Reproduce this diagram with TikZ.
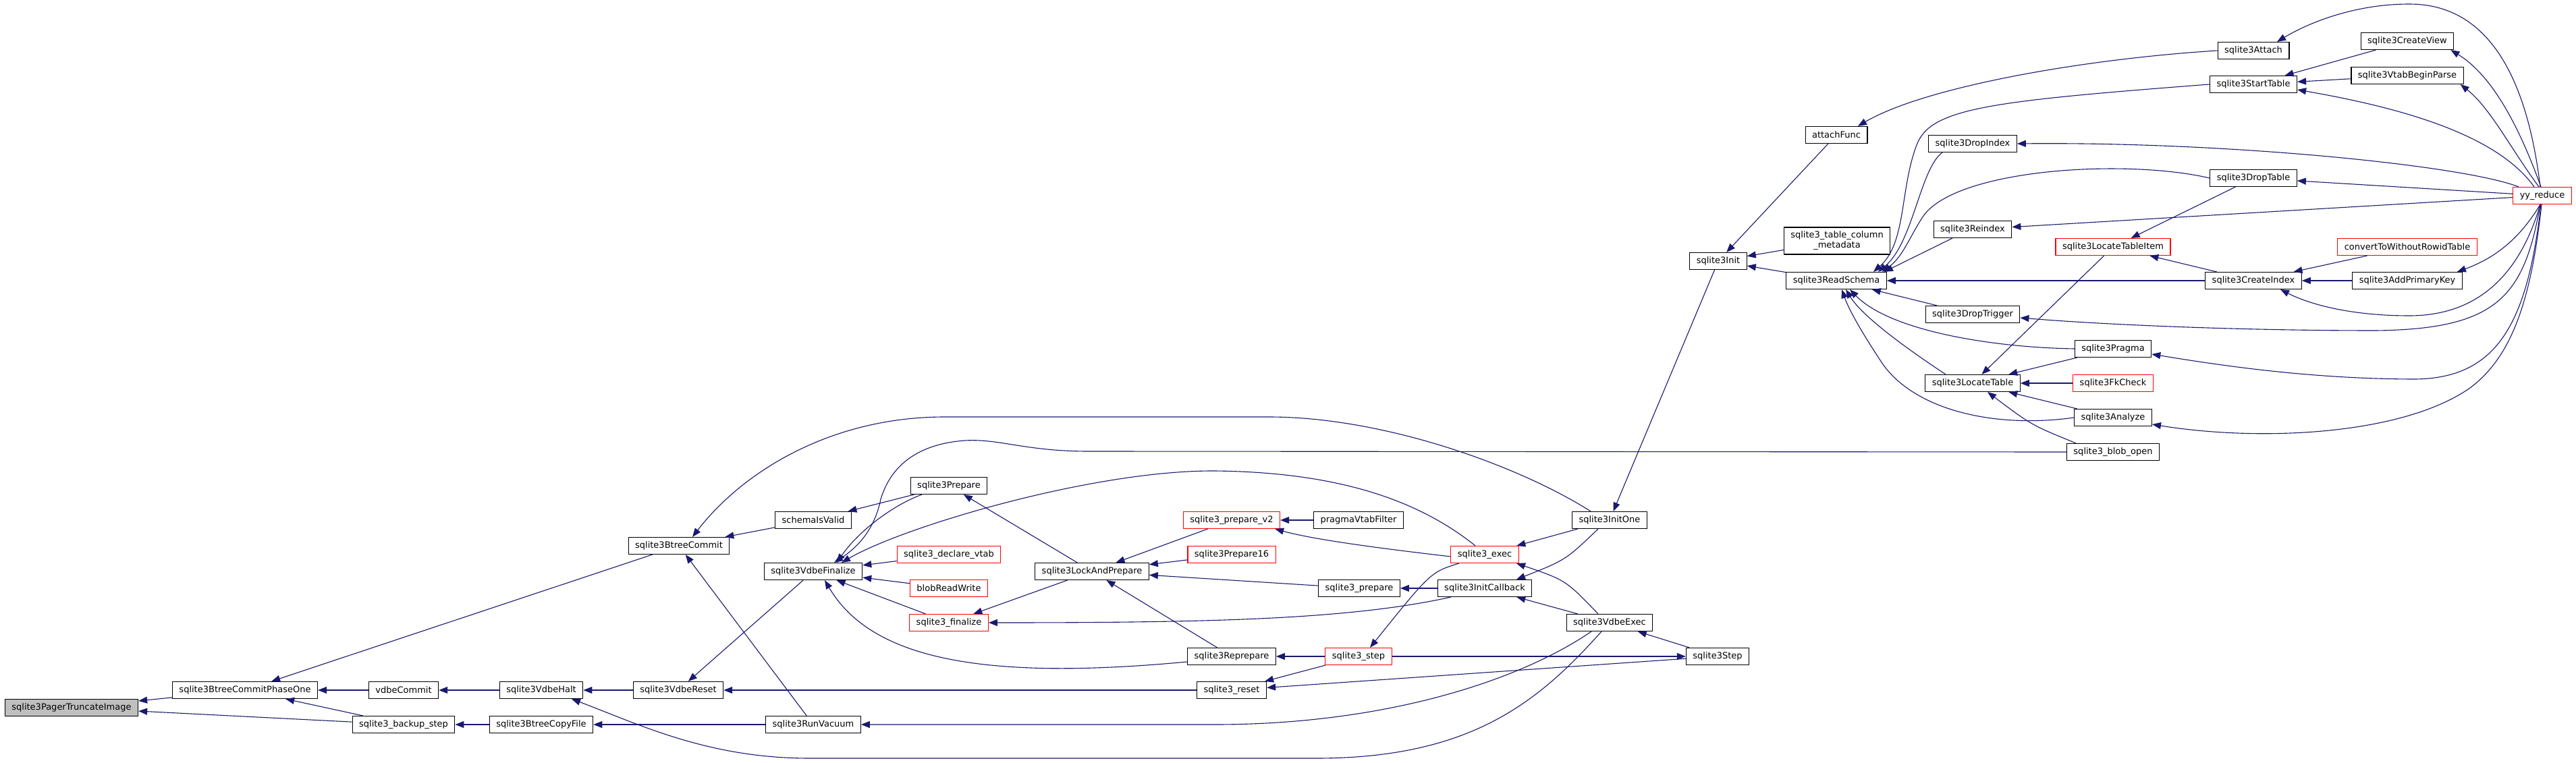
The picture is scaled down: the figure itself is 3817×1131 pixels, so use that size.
\documentclass[tikz,border=0pt]{standalone}
\usepackage{fontspec}
\setmainfont{DejaVu Sans}
\usepackage{tikz}
\usetikzlibrary{arrows.meta}
\definecolor{edgeblue}{HTML}{191970}
\definecolor{rootgray}{HTML}{BFBFBF}
\definecolor{linkred}{HTML}{FF0000}

\begin{document}
\begin{tikzpicture}[x=1pt,y=-1pt,
  fn/.style={draw=black,line width=1.1pt,fill=white,minimum height=25pt,inner xsep=10pt,inner ysep=0pt,font=\fontsize{13}{15}\selectfont},
  fnred/.style={fn,draw=linkred},
  fnroot/.style={fn,fill=rootgray},
  arr/.style={draw=edgeblue,line width=1.1pt,-{Triangle[length=13pt,width=10pt]}}]
  \useasboundingbox (0,0) rectangle (3817,1131);

  \node[fnroot] (ptrunc) at (106,1049) {sqlite3PagerTruncateImage};
  \node[fn] (commitone) at (363,1023) {sqlite3BtreeCommitPhaseOne};
  \node[fn] (vdbecommit) at (598,1023) {vdbeCommit};
  \node[fn] (backupstep) at (598,1074) {sqlite3\_backup\_step};
  \node[fn] (vdbehalt) at (802,1023) {sqlite3VdbeHalt};
  \node[fn] (copyfile) at (802,1074) {sqlite3BtreeCopyFile};
  \node[fn] (vdbereset) at (1005,1023) {sqlite3VdbeReset};
  \node[fn] (btcommit) at (1006,809) {sqlite3BtreeCommit};
  \node[fn] (schemavalid) at (1205,771) {schemaIsValid};
  \node[fn] (vdbefinal) at (1205,847) {sqlite3VdbeFinalize};
  \node[fn] (runvacuum) at (1205,1074) {sqlite3RunVacuum};
  \node[fn] (prepare) at (1406,720) {sqlite3Prepare};
  \node[fnred] (declarevtab) at (1406,822) {sqlite3\_declare\_vtab};
  \node[fnred] (blobrw) at (1406,872) {blobReadWrite};
  \node[fnred] (finalize) at (1406,923) {sqlite3\_finalize};
  \node[fn] (lockprep) at (1618,847) {sqlite3LockAndPrepare};
  \node[fnred] (preparev2) at (1825,771) {sqlite3\_prepare\_v2};
  \node[fnred] (prep16) at (1825,822) {sqlite3Prepare16};
  \node[fn] (reprepare) at (1825,973) {sqlite3Reprepare};
  \node[fn] (reset) at (1825,1023) {sqlite3\_reset};
  \node[fn] (vtabfilter) at (2013,771) {pragmaVtabFilter};
  \node[fn] (prepareapi) at (2014,872) {sqlite3\_prepare};
  \node[fnred] (step) at (2013,973) {sqlite3\_step};
  \node[fnred] (exec) at (2200,822) {sqlite3\_exec};
  \node[fn] (initcb) at (2200,872) {sqlite3InitCallback};
  \node[fn] (initone) at (2385,771) {sqlite3InitOne};
  \node[fn] (vdbeexec) at (2385,923) {sqlite3VdbeExec};
  \node[fn] (init) at (2546,387) {sqlite3Init};
  \node[fn] (stepint) at (2545,973) {sqlite3Step};
  \node[fn] (attachfunc) at (2721,200) {attachFunc};
  \node[fn,align=center,minimum height=40pt] (colmeta) at (2722,357) {sqlite3\_table\_column\\\_metadata};
  \node[fn] (readschema) at (2721,416) {sqlite3ReadSchema};
  \node[fn] (dropindex) at (2923,213) {sqlite3DropIndex};
  \node[fn] (reindex) at (2923,340) {sqlite3Reindex};
  \node[fn] (droptrigger) at (2923,466) {sqlite3DropTrigger};
  \node[fn] (locatetable) at (2923,568) {sqlite3LocateTable};
  \node[fnred] (locitem) at (3131,366) {sqlite3LocateTableItem};
  \node[fn] (pragma) at (3131,517) {sqlite3Pragma};
  \node[fnred] (fkcheck) at (3131,568) {sqlite3FkCheck};
  \node[fn] (analyze) at (3131,619) {sqlite3Analyze};
  \node[fn] (blobopen) at (3131,670) {sqlite3\_blob\_open};
  \node[fn] (attach) at (3339,75) {sqlite3Attach};
  \node[fn] (starttable) at (3339,125) {sqlite3StartTable};
  \node[fn] (droptable) at (3339,264) {sqlite3DropTable};
  \node[fn] (createindex) at (3339,416) {sqlite3CreateIndex};
  \node[fn] (createview) at (3567,61) {sqlite3CreateView};
  \node[fn] (vtabbegin) at (3567,112) {sqlite3VtabBeginParse};
  \node[fnred] (convrowid) at (3567,366) {convertToWithoutRowidTable};
  \node[fn] (addpk) at (3567,416) {sqlite3AddPrimaryKey};
  \node[fnred] (yyreduce) at (3767,290) {yy\_reduce};

  \draw[arr] (commitone) -- (ptrunc);
  \draw[arr] (backupstep) -- (ptrunc);
  \draw[arr] (vdbecommit) -- (commitone);
  \draw[arr] (backupstep) -- (commitone);
  \draw[arr] (btcommit) -- (commitone);
  \draw[arr] (vdbehalt) -- (vdbecommit);
  \draw[arr] (copyfile) -- (backupstep);
  \draw[arr] (vdbereset) -- (vdbehalt);
  \draw[arr] (runvacuum) -- (copyfile);
  \draw[arr] (vdbefinal) -- (vdbereset);
  \draw[arr] (reset) -- (vdbereset);
  \draw[arr] (schemavalid) -- (btcommit);
  \draw[arr] (runvacuum) -- (btcommit);
  \draw[arr] ([xshift=-28pt]initone.north) .. controls (2250,690) and (2050,618) .. (1880,618) -- (1400,618) .. controls (1230,618) and (1100,700) .. ([xshift=20pt]btcommit.north);
  \draw[arr] (prepare) -- (schemavalid);
  \draw[arr] ([xshift=-40pt]prepare.south) .. controls (1320,750) and (1270,790) .. ([xshift=35pt]vdbefinal.north);
  \draw[arr] (blobopen.west) -- (1613,669) .. controls (1520,669) and (1480,650) .. (1430,653) .. controls (1360,658) and (1320,690) .. (1305,740) .. controls (1295,790) and (1265,815) .. ([xshift=31pt]vdbefinal.north);
  \draw[arr] ([xshift=-14pt]exec.north) .. controls (2100,740) and (1980,700) .. (1800,698) .. controls (1620,697) and (1340,780) .. ([xshift=42pt]vdbefinal.north);
  \draw[arr] (declarevtab) -- (vdbefinal);
  \draw[arr] (blobrw) -- (vdbefinal);
  \draw[arr] (finalize) -- (vdbefinal);
  \draw[arr] ([yshift=-8pt]reprepare.west) .. controls (1450,1010) and (1290,975) .. ([xshift=17pt]vdbefinal.south);
  \draw[arr] (lockprep) -- (prepare);
  \draw[arr] (lockprep) -- (finalize);
  \draw[arr] ([xshift=-50pt]initcb.south) .. controls (2000,918) and (1800,923) .. (finalize.east);
  \draw[arr] (preparev2) -- (lockprep);
  \draw[arr] (prep16) -- (lockprep);
  \draw[arr] (prepareapi) -- (lockprep);
  \draw[arr] (reprepare) -- (lockprep);
  \draw[arr] (vtabfilter) -- (preparev2);
  \draw[arr] ([yshift=-3pt]exec.west) .. controls (2020,810) and (1940,798) .. ([xshift=-8pt]preparev2.south east);
  \draw[arr] (step) -- (reprepare);
  \draw[arr] (step) -- (reset);
  \draw[arr] (stepint) -- (reset);
  \draw[arr] (initcb) -- (prepareapi);
  \draw[arr] ([xshift=-38pt]exec.south) .. controls (2120,848) .. ([xshift=17pt]step.north);
  \draw[arr] (step) -- (stepint);
  \draw[arr] (initone) -- (exec);
  \draw[arr] ([xshift=-17pt]vdbeexec.north) .. controls (2320,860) .. ([xshift=47pt]exec.south);
  \draw[arr] ([xshift=-17pt]initone.south) .. controls (2320,830) .. ([xshift=47pt]initcb.north);
  \draw[arr] (vdbeexec) -- (initcb);
  \draw[arr] ([xshift=-27pt]vdbeexec.south) .. controls (2250,1010) and (2050,1074) .. (1800,1074) -- (runvacuum.east);
  \draw[arr] ([xshift=-12pt]vdbeexec.south) .. controls (2280,1040) and (2180,1124) .. (1950,1124) -- (1200,1124) .. controls (1050,1124) and (950,1075) .. ([xshift=45pt]vdbehalt.south);
  \draw[arr] (stepint) -- (vdbeexec);
  \draw[arr] (init) -- (initone);
  \draw[arr] (attachfunc) -- (init);
  \draw[arr] (colmeta) -- (init);
  \draw[arr] (readschema) -- (init);
  \draw[arr] (attach.west) .. controls (3080,88) and (2850,130) .. ([xshift=32pt]attachfunc.north);
  \draw[arr] (starttable.west) .. controls (2950,150) and (2860,160) .. (2840,215) .. controls (2815,280) and (2825,360) .. ([xshift=55pt]readschema.north);
  \draw[arr] ([xshift=-45pt]dropindex.south) .. controls (2845,250) and (2835,360) .. ([xshift=62pt]readschema.north);
  \draw[arr] (droptable.west) .. controls (3150,235) and (2900,250) .. (2850,320) .. controls (2830,350) and (2820,380) .. ([xshift=68pt]readschema.north);
  \draw[arr] ([xshift=-30pt]reindex.south) -- ([xshift=-4pt]readschema.north east);
  \draw[arr] (createindex) -- (readschema);
  \draw[arr] (droptrigger) -- (readschema);
  \draw[arr] (pragma.west) .. controls (2950,515) and (2800,490) .. ([xshift=20pt]readschema.south);
  \draw[arr] ([xshift=-40pt]locatetable.north) .. controls (2830,520) and (2760,470) .. ([xshift=14pt]readschema.south);
  \draw[arr] (analyze.west) .. controls (2960,635) and (2840,610) .. (2790,540) .. controls (2760,495) and (2740,460) .. ([xshift=8pt]readschema.south);
  \draw[arr] (createview) -- (starttable);
  \draw[arr] (vtabbegin) -- (starttable);
  \draw[arr] ([xshift=-12pt]yyreduce.north) .. controls (3700,200) and (3560,160) .. ([yshift=-8pt]starttable.east);
  \draw[arr] ([xshift=-3pt]yyreduce.north) .. controls (3745,120) and (3690,6) .. (3570,6) .. controls (3480,6) and (3410,40) .. ([xshift=35pt]attach.north);
  \draw[arr] ([xshift=-2pt]yyreduce.north) .. controls (3730,180) and (3690,110) .. ([xshift=-5pt]createview.south east);
  \draw[arr] ([xshift=-5pt]yyreduce.north) .. controls (3720,220) and (3690,160) .. ([xshift=-5pt]vtabbegin.south east);
  \draw[arr] ([xshift=-35pt]yyreduce.north) .. controls (3650,245) and (3300,210) .. (dropindex.east);
  \draw[arr] (yyreduce) -- (droptable);
  \draw[arr] (yyreduce) -- (reindex);
  \draw[arr] ([xshift=-3pt]yyreduce.south) .. controls (3730,360) and (3690,385) .. ([xshift=-8pt]addpk.north east);
  \draw[arr] ([xshift=-3pt]yyreduce.south) .. controls (3730,420) and (3660,468) .. (3570,468) .. controls (3480,468) and (3420,450) .. ([xshift=40pt]createindex.south);
  \draw[arr] ([xshift=-3pt]yyreduce.south) .. controls (3740,440) and (3700,488) .. (3520,490) .. controls (3300,490) and (3100,480) .. ([yshift=-5pt]droptrigger.east);
  \draw[arr] ([xshift=-2pt]yyreduce.south) .. controls (3745,480) and (3700,560) .. (3580,562) .. controls (3420,562) and (3280,540) .. ([yshift=-8pt]pragma.east);
  \draw[arr] ([xshift=-1pt]yyreduce.south) .. controls (3750,450) and (3720,530) .. (3660,575) .. controls (3560,645) and (3350,655) .. ([yshift=-10pt]analyze.east);
  \draw[arr] (droptable) -- (locitem);
  \draw[arr] (createindex) -- (locitem);
  \draw[arr] (locitem) -- (locatetable);
  \draw[arr] (convrowid) -- (createindex);
  \draw[arr] (addpk) -- (createindex);
  \draw[arr] (pragma) -- (locatetable);
  \draw[arr] (fkcheck) -- (locatetable);
  \draw[arr] (analyze) -- (locatetable);
  \draw[arr] ([xshift=-55pt]blobopen.north) .. controls (3010,630) .. ([xshift=22pt]locatetable.south);
\end{tikzpicture}
\end{document}
